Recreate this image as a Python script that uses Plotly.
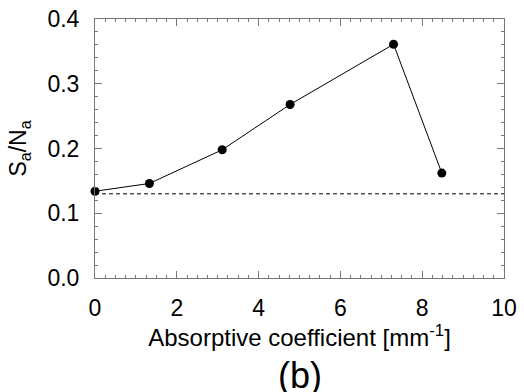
import plotly.graph_objects as go

x_vals = [0.0, 1.33, 3.11, 4.77, 7.30, 8.48]
y_vals = [0.134, 0.146, 0.198, 0.268, 0.361, 0.162]
baseline = 0.130
x_range = [0, 10]
y_range = [0, 0.4]

fig = go.Figure()
fig.add_trace(go.Scatter(x=x_range, y=[baseline, baseline], mode="lines",
                         line=dict(color="black", width=1, dash="4px,3px"),
                         hoverinfo="skip", showlegend=False, cliponaxis=False))
fig.add_trace(go.Scatter(x=x_vals, y=y_vals, mode="lines+markers",
                         line=dict(color="black", width=1),
                         marker=dict(color="black", size=9),
                         showlegend=False, cliponaxis=False))

fam = "Liberation Sans"
axcol = "#777777"
tfont = dict(family=fam, size=23, color="black")
fig.update_layout(
    width=524, height=392,
    margin=dict(l=95, r=20, t=19, b=114),
    plot_bgcolor="white", paper_bgcolor="white",
    font=dict(family=fam, size=23, color="black"),
    xaxis=dict(range=x_range, dtick=2, tick0=0, ticks="inside", ticklen=7,
               tickcolor=axcol, showline=True, linecolor=axcol, linewidth=1,
               mirror="allticks", showgrid=False, zeroline=False, automargin=False,
               ticklabelstandoff=9,
               minor=dict(dtick=0.25, ticks="inside", ticklen=3, tickcolor=axcol, showgrid=False),
               title=dict(text="Absorptive coefficient [mm<sup>-1</sup>]", standoff=8,
                          font=dict(family=fam, size=24, color="black")),
               tickfont=tfont),
    yaxis=dict(range=y_range, dtick=0.1, tick0=0, tickformat=".1f", ticks="inside", ticklen=7,
               tickcolor=axcol, showline=True, linecolor=axcol, linewidth=1,
               mirror="allticks", showgrid=False, zeroline=False, automargin=False,
               ticklabelstandoff=10,
               minor=dict(dtick=0.02, ticks="inside", ticklen=3, tickcolor=axcol, showgrid=False),
               title=dict(text="S<sub>a</sub>/N<sub>a</sub>", standoff=14, font=tfont),
               tickfont=tfont),
    annotations=[dict(text="(b)", x=0.5, y=-0.29, xref="paper", yref="paper",
                      showarrow=False, font=dict(family=fam, size=36, color="black"),
                      yanchor="top")],
)
fig.write_html("out.html")
